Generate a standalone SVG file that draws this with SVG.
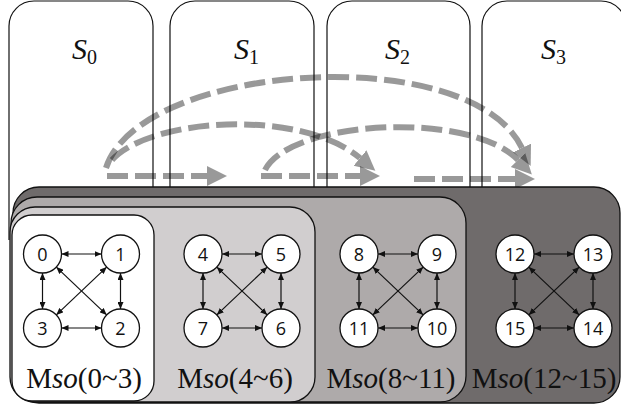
<svg xmlns="http://www.w3.org/2000/svg" width="621" height="408" viewBox="0 0 621 408">
<style>
.col{fill:#fff;stroke:#111;stroke-width:1.2}
.s{font-family:"Liberation Serif",serif;font-style:italic;font-size:30px;fill:#111}
.sub{font-style:normal;font-size:20px}
.ga{fill:none;stroke:#000;stroke-opacity:0.4;stroke-width:6;stroke-dasharray:21 7}
.box{stroke:#111;stroke-width:1.3}
.lbl{font-family:"Liberation Serif",serif;font-size:29px;fill:#111;text-anchor:middle}
.nd circle{fill:#fff;stroke:#111;stroke-width:1.3}
.nd text{font-family:"Open Sans","Noto Sans",sans-serif;font-size:18px;fill:#111;text-anchor:middle}
.e{fill:none;stroke:#111;stroke-width:1.2;marker-start:url(#a);marker-end:url(#a)}
</style>
<defs>
<marker id="a" markerUnits="userSpaceOnUse" markerWidth="8" markerHeight="6" refX="7" refY="3" orient="auto-start-reverse"><path d="M0,0 L7,3 L0,6 z" fill="#111"/></marker>
<marker id="g" markerUnits="userSpaceOnUse" markerWidth="21" markerHeight="21" refX="0" refY="10" orient="auto"><path d="M0,0 L20,10 L0,20 z" fill="#000" fill-opacity="0.4"/></marker>
</defs>

<g id="columns">
<g id="S0"><path class="col" d="M9,240 V26 A25,25 0 0 1 34,1 H128 A25,25 0 0 1 153,26 V240"/><text class="s" x="72" y="59">S<tspan class="sub" dy="5">0</tspan></text></g>
<g id="S1"><path class="col" d="M170,240 V26 A25,25 0 0 1 195,1 H289 A25,25 0 0 1 314,26 V240"/><text class="s" x="234" y="59">S<tspan class="sub" dy="5">1</tspan></text></g>
<g id="S2"><path class="col" d="M327,240 V26 A25,25 0 0 1 352,1 H445 A25,25 0 0 1 470,26 V240"/><text class="s" x="385" y="59">S<tspan class="sub" dy="5">2</tspan></text></g>
<g id="S3"><path class="col" d="M482,240 V26 A25,25 0 0 1 507,1 H601 A25,25 0 0 1 626,26 V240"/><text class="s" x="541" y="59">S<tspan class="sub" dy="5">3</tspan></text></g>
</g>

<g id="transfers">
<path class="ga" d="M107,176 H207" marker-end="url(#g)"/>
<path class="ga" d="M261,176 H360" marker-end="url(#g)"/>
<path class="ga" d="M414,179 H515" marker-end="url(#g)"/>
<path class="ga" d="M112,160 C150,118 300,108 360,158" marker-end="url(#g)"/>
<path class="ga" d="M106,168 C140,62 470,40 522,148" marker-end="url(#g)"/>
<path class="ga" d="M265,170 C290,120 470,110 518,160" marker-end="url(#g)"/>
</g>

<g id="boxes">
<rect class="box" x="13" y="187" width="607" height="216" rx="26" fill="#6f6b6b" stroke-width="2"/>
<rect class="box" x="11" y="197" width="455" height="205" rx="26" fill="#aeaaaa"/>
<rect class="box" x="10" y="207" width="305" height="195" rx="25" fill="#d1cecf"/>
<rect class="box" x="12" y="215" width="142" height="186" rx="20" fill="#ffffff"/>
<text class="lbl" x="84" y="388">M<tspan font-style="italic">so</tspan>(0~3)</text>
<text class="lbl" x="235" y="388">M<tspan font-style="italic">so</tspan>(4~6)</text>
<text class="lbl" x="391" y="388">M<tspan font-style="italic">so</tspan>(8~11)</text>
<text class="lbl" x="544" y="388">M<tspan font-style="italic">so</tspan>(12~15)</text>
</g>

<g id="connectors">
<g transform="translate(42.5,0)">
<path class="e" d="M19,254 H59"/><path class="e" d="M19,328 H59"/>
<path class="e" d="M0,273 V309"/><path class="e" d="M78,273 V309"/>
<path class="e" d="M13.8,267.1 L64.2,314.9"/><path class="e" d="M64.2,267.1 L13.8,314.9"/>
</g>
<g transform="translate(203,0)">
<path class="e" d="M19,254 H59"/><path class="e" d="M19,328 H59"/>
<path class="e" d="M0,273 V309"/><path class="e" d="M78,273 V309"/>
<path class="e" d="M13.8,267.1 L64.2,314.9"/><path class="e" d="M64.2,267.1 L13.8,314.9"/>
</g>
<g transform="translate(359,0)">
<path class="e" d="M19,254 H59"/><path class="e" d="M19,328 H59"/>
<path class="e" d="M0,273 V309"/><path class="e" d="M78,273 V309"/>
<path class="e" d="M13.8,267.1 L64.2,314.9"/><path class="e" d="M64.2,267.1 L13.8,314.9"/>
</g>
<g transform="translate(515,0)">
<path class="e" d="M19,254 H59"/><path class="e" d="M19,328 H59"/>
<path class="e" d="M0,273 V309"/><path class="e" d="M78,273 V309"/>
<path class="e" d="M13.8,267.1 L64.2,314.9"/><path class="e" d="M64.2,267.1 L13.8,314.9"/>
</g>
</g>

<g id="nodes">
<g id="n0" class="nd"><circle cx="42.5" cy="254" r="19"/><text x="42.5" y="260.5">0</text></g>
<g id="n1" class="nd"><circle cx="120.5" cy="254" r="19"/><text x="120.5" y="260.5">1</text></g>
<g id="n2" class="nd"><circle cx="120.5" cy="328" r="19"/><text x="120.5" y="334.5">2</text></g>
<g id="n3" class="nd"><circle cx="42.5" cy="328" r="19"/><text x="42.5" y="334.5">3</text></g>
<g id="n4" class="nd"><circle cx="203" cy="254" r="19"/><text x="203" y="260.5">4</text></g>
<g id="n5" class="nd"><circle cx="281" cy="254" r="19"/><text x="281" y="260.5">5</text></g>
<g id="n6" class="nd"><circle cx="281" cy="328" r="19"/><text x="281" y="334.5">6</text></g>
<g id="n7" class="nd"><circle cx="203" cy="328" r="19"/><text x="203" y="334.5">7</text></g>
<g id="n8" class="nd"><circle cx="359" cy="254" r="19"/><text x="359" y="260.5">8</text></g>
<g id="n9" class="nd"><circle cx="437" cy="254" r="19"/><text x="437" y="260.5">9</text></g>
<g id="n10" class="nd"><circle cx="437" cy="328" r="19"/><text x="437" y="334.5">10</text></g>
<g id="n11" class="nd"><circle cx="359" cy="328" r="19"/><text x="359" y="334.5">11</text></g>
<g id="n12" class="nd"><circle cx="515" cy="254" r="19"/><text x="515" y="260.5">12</text></g>
<g id="n13" class="nd"><circle cx="593" cy="254" r="19"/><text x="593" y="260.5">13</text></g>
<g id="n14" class="nd"><circle cx="593" cy="328" r="19"/><text x="593" y="334.5">14</text></g>
<g id="n15" class="nd"><circle cx="515" cy="328" r="19"/><text x="515" y="334.5">15</text></g>
</g>
</svg>
